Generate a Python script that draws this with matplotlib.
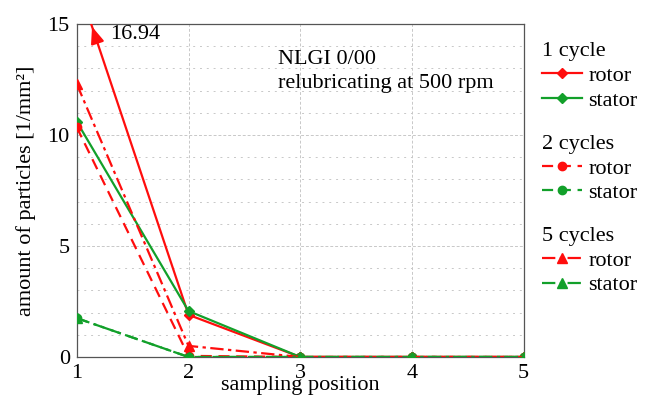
import numpy as np
import matplotlib.pyplot as plt
from matplotlib.lines import Line2D

plt.rcParams["font.family"] = ["Liberation Serif", "DejaVu Serif"]

RED = "#ff0d0d"
GREEN = "#12a02a"
FS = 16

positions = [1, 2, 3, 4, 5]
rotor_1 = [16.94, 1.9, 0, 0, 0]
stator_1 = [10.6, 2.07, 0, 0, 0]
rotor_2 = [10.35, 0.05, 0, 0, 0]
stator_2 = [1.75, 0, 0, 0, 0]
rotor_5 = [12.3, 0.5, 0, 0, 0]
stator_5 = [1.75, 0, 0, 0, 0]

series = [
    ("1 cycle", rotor_1, stator_1, "-", "D", 5.5),
    ("2 cycles", rotor_2, stator_2, (0, (5, 3)), "o", 6),
    ("5 cycles", rotor_5, stator_5, (0, (6, 2, 1.5, 2)), "^", 6.5),
]

fig = plt.figure(figsize=(6.45, 3.97), dpi=100)
ax = fig.add_axes([0.119, 0.1008, 0.693, 0.8387])

for name, rot, sta, ls, mk, ms in series:
    ax.plot(positions, rot, color=RED, ls=ls, lw=1.6, marker=mk, ms=ms, zorder=3)
    ax.plot(positions, sta, color=GREEN, ls=ls, lw=1.6, marker=mk, ms=ms, zorder=3)

ax.set_xlim(1, 5)
ax.set_ylim(0, 15)
ax.set_xticks(positions)
ax.set_yticks([0, 5, 10, 15])
ax.set_yticks(np.arange(0, 16, 1), minor=True)
ax.tick_params(length=0, labelsize=FS, pad=5, which="both")
ax.grid(True, which="major", color="#c8c8c8", ls=(0, (3, 2)), lw=0.7)
ax.grid(True, which="minor", axis="y", color="#c8c8c8", ls=(0, (2, 5)), lw=0.7)
ax.set_axisbelow(True)
for sp in ax.spines.values():
    sp.set_color("#555555")
    sp.set_linewidth(0.9)

ax.set_xlabel("sampling position", fontsize=FS, labelpad=-5)
ax.set_ylabel("amount of particles [1/mm²]", fontsize=FS, labelpad=8)

# arrow for clipped value at position 1
y0, y1 = rotor_1[0], rotor_1[1]
x_top = 1 + (y0 - 15) / (y0 - y1)
x_low = 1 + (y0 - 14.2) / (y0 - y1)
ax.annotate("", xy=(x_top, 15), xytext=(x_low, 14.2),
            arrowprops=dict(arrowstyle="-|>,head_length=1.0,head_width=0.4",
                            color=RED, lw=1.6), annotation_clip=False, zorder=4)
ax.text(x_top + 0.17, 14.55, "%.2f" % rotor_1[0], fontsize=FS, va="center", ha="left")

ax.text(2.8, 12.85, "NLGI 0/00\nrelubricating at 500 rpm", fontsize=FS,
        va="center", ha="left", linespacing=1.35)

# grouped legends on the right
tops = [0.893, 0.66, 0.428]
for (name, rot, sta, ls, mk, ms), top in zip(series, tops):
    handles = [Line2D([], [], color=RED, ls=ls, lw=1.6, marker=mk, ms=ms),
               Line2D([], [], color=GREEN, ls=ls, lw=1.6, marker=mk, ms=ms)]
    leg = fig.legend(handles, ["rotor", "stator"], title=name, loc="upper left",
                     bbox_to_anchor=(0.84, top), frameon=False, fontsize=FS,
                     title_fontsize=FS, handlelength=1.8, handletextpad=0.3,
                     labelspacing=0.18, borderaxespad=0, borderpad=0,
                     alignment="left")
    leg._legend_box.sep = 3

fig.savefig("out.png", dpi=100)
